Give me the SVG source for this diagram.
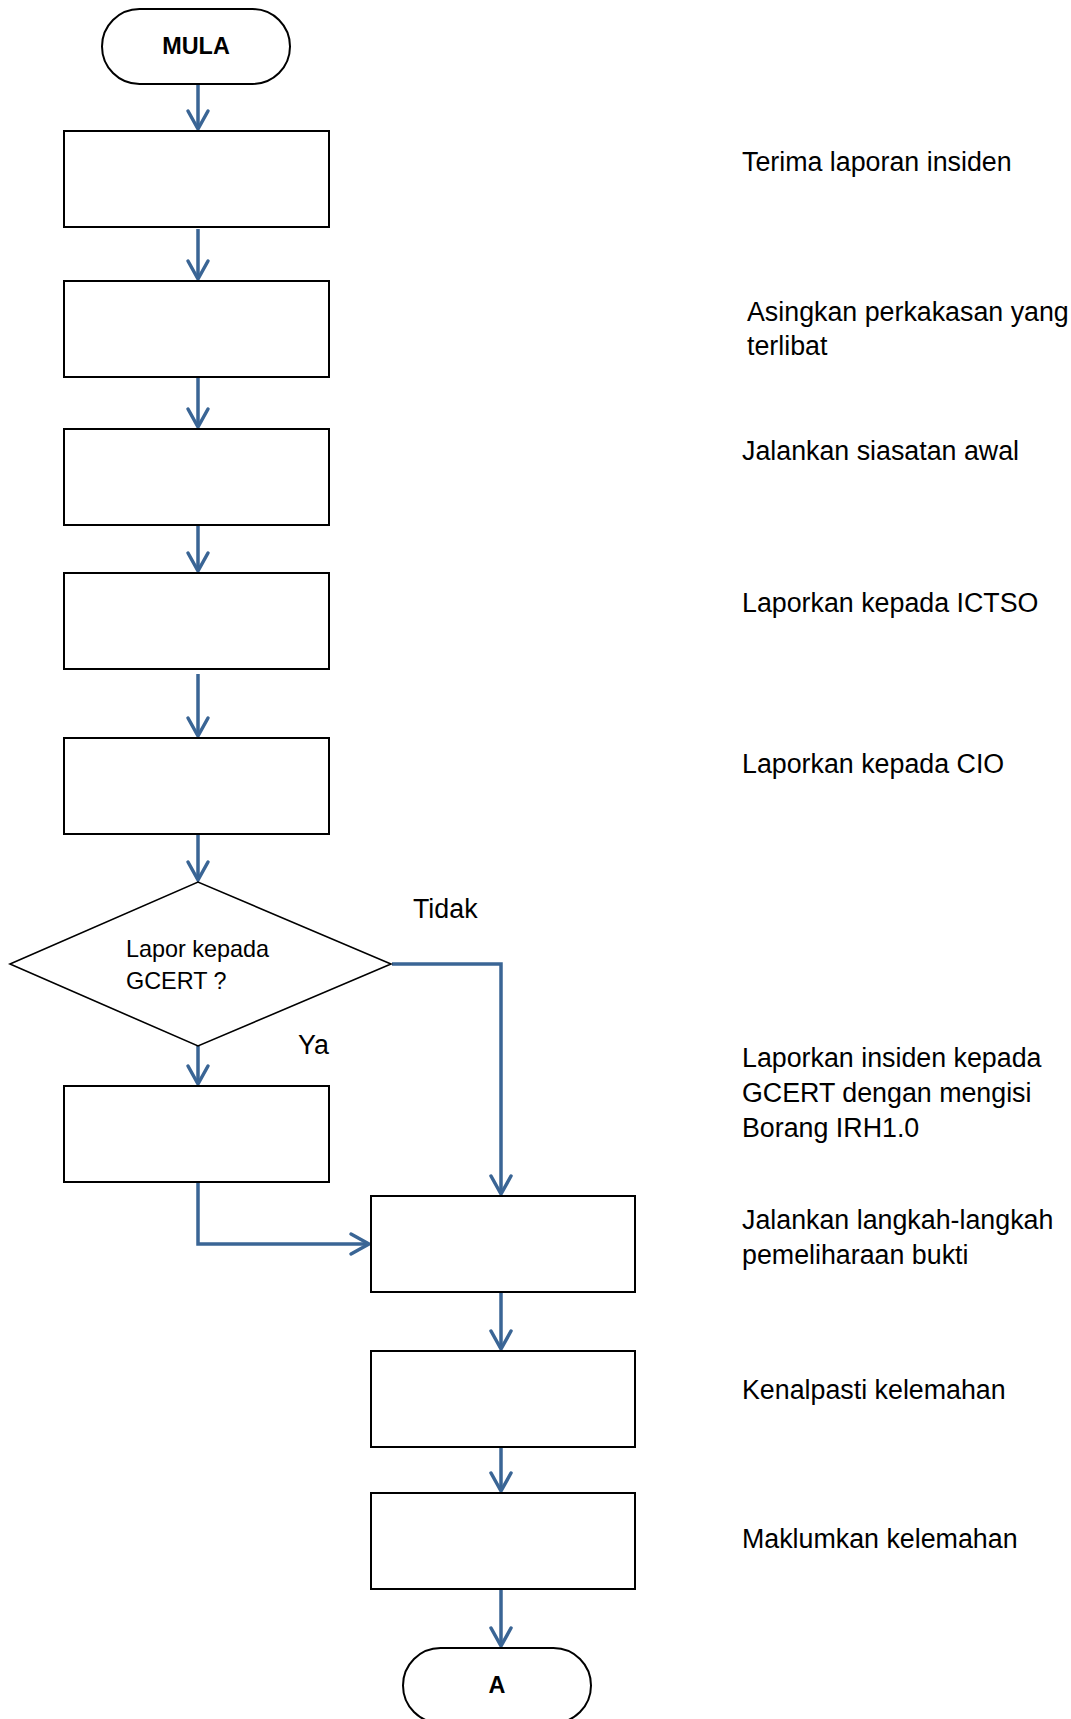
<svg xmlns="http://www.w3.org/2000/svg" width="1071" height="1719" viewBox="0 0 1071 1719">
<style>
.box{fill:#fff;stroke:#000;stroke-width:2}
.dia{fill:#fff;stroke:#000;stroke-width:1.6}
.con{fill:none;stroke:#3a6595;stroke-width:3.5;stroke-linejoin:miter}
.t{font-family:"Liberation Sans",Arial,sans-serif;fill:#000}
.lbl{font-size:26.8px}
.dt{font-size:23.4px}
.bt{font-size:23.4px;font-weight:bold;text-anchor:middle}
</style>
<defs>
<marker id="ah" markerUnits="userSpaceOnUse" viewBox="-22 -13 26 26" markerWidth="26" markerHeight="26" refX="0" refY="0" orient="auto" overflow="visible">
<path d="M -18 -10 L 0 0 L -18 10" fill="none" stroke="#3a6595" stroke-width="3.5" stroke-linecap="round" stroke-linejoin="miter"/>
</marker>
</defs>
<rect width="1071" height="1719" fill="#fff"/>
<g id="connectors">
<line class="con" x1="198" y1="84" x2="198" y2="129" marker-end="url(#ah)"/>
<line class="con" x1="198" y1="229" x2="198" y2="279" marker-end="url(#ah)"/>
<line class="con" x1="198" y1="377" x2="198" y2="427" marker-end="url(#ah)"/>
<line class="con" x1="198" y1="525" x2="198" y2="571" marker-end="url(#ah)"/>
<line class="con" x1="198" y1="674" x2="198" y2="736" marker-end="url(#ah)"/>
<line class="con" x1="198" y1="834" x2="198" y2="880" marker-end="url(#ah)"/>
<line class="con" x1="198" y1="1046" x2="198" y2="1084" marker-end="url(#ah)"/>
<path class="con" d="M 392 964 H 501 V 1194" marker-end="url(#ah)"/>
<path class="con" d="M 198 1182 V 1244 H 369" marker-end="url(#ah)"/>
<line class="con" x1="501" y1="1292" x2="501" y2="1349" marker-end="url(#ah)"/>
<line class="con" x1="501" y1="1447" x2="501" y2="1491" marker-end="url(#ah)"/>
<line class="con" x1="501" y1="1589" x2="501" y2="1646" marker-end="url(#ah)"/>
</g>
<g id="mula"><rect class="box" x="102" y="9" width="188" height="75" rx="37.5"/><text class="t bt" x="196" y="54">MULA</text></g>
<g id="box1"><rect class="box" x="64" y="131" width="265" height="96"/></g>
<g id="box2"><rect class="box" x="64" y="281" width="265" height="96"/></g>
<g id="box3"><rect class="box" x="64" y="429" width="265" height="96"/></g>
<g id="box4"><rect class="box" x="64" y="573" width="265" height="96"/></g>
<g id="box5"><rect class="box" x="64" y="738" width="265" height="96"/></g>
<g id="decision"><polygon class="dia" points="10,964 198,882 391,964 198,1046"/><text class="t dt" x="126" y="957">Lapor kepada</text><text class="t dt" x="126" y="988.5">GCERT ?</text></g>
<g id="box6"><rect class="box" x="64" y="1086" width="265" height="96"/></g>
<g id="box7"><rect class="box" x="371" y="1196" width="264" height="96"/></g>
<g id="box8"><rect class="box" x="371" y="1351" width="264" height="96"/></g>
<g id="box9"><rect class="box" x="371" y="1493" width="264" height="96"/></g>
<g id="endA"><rect class="box" x="403" y="1648" width="188" height="75" rx="37.5"/><text class="t bt" x="497" y="1693">A</text></g>
<g id="labels">
<text class="t lbl" x="413" y="918">Tidak</text>
<text class="t lbl" x="298" y="1054">Ya</text>
<text class="t lbl" x="742" y="171">Terima laporan insiden</text>
<text class="t lbl" x="747" y="320.5">Asingkan perkakasan yang</text>
<text class="t lbl" x="747" y="354.5">terlibat</text>
<text class="t lbl" x="742" y="460">Jalankan siasatan awal</text>
<text class="t lbl" x="742" y="612">Laporkan kepada ICTSO</text>
<text class="t lbl" x="742" y="773">Laporkan kepada CIO</text>
<text class="t lbl" x="742" y="1067">Laporkan insiden kepada</text>
<text class="t lbl" x="742" y="1102">GCERT dengan mengisi</text>
<text class="t lbl" x="742" y="1137">Borang IRH1.0</text>
<text class="t lbl" x="742" y="1229">Jalankan langkah-langkah</text>
<text class="t lbl" x="742" y="1264">pemeliharaan bukti</text>
<text class="t lbl" x="742" y="1399">Kenalpasti kelemahan</text>
<text class="t lbl" x="742" y="1548">Maklumkan kelemahan</text>
</g>
</svg>
